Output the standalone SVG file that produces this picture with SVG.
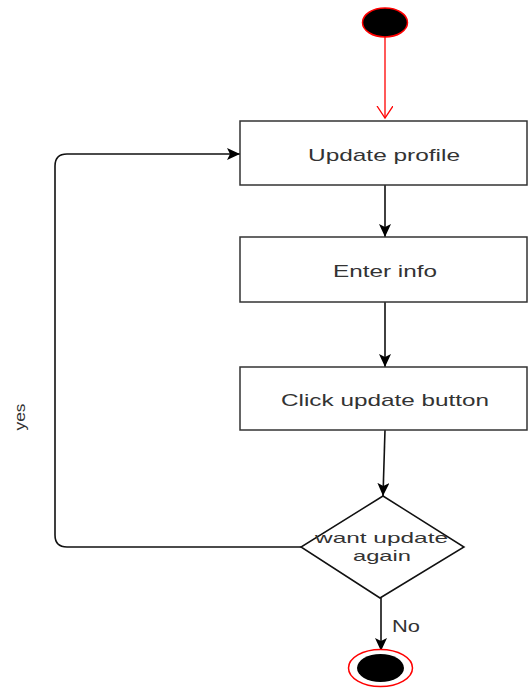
<svg xmlns="http://www.w3.org/2000/svg" width="528" height="689" viewBox="0 0 528 689">
<defs>
<marker id="arr" markerWidth="14" markerHeight="12" refX="13" refY="6" orient="auto" markerUnits="userSpaceOnUse">
<path d="M0,0 L13,6 L0,12 L3,6 Z" fill="#000"/>
</marker>
<marker id="open" markerWidth="14" markerHeight="18" refX="12" refY="8" orient="auto" markerUnits="userSpaceOnUse">
<path d="M0,0 L12,8 L0,16" fill="none" stroke="#ff0000" stroke-width="1.3"/>
</marker>
</defs>
<style>
.box{fill:#fff;stroke:#333;stroke-width:1.5}
.lbl{font-family:"Liberation Sans",Arial,sans-serif;font-size:17px;fill:#333;text-anchor:middle}
.dec{font-size:15px}
.edge{fill:none;stroke:#111;stroke-width:1.6}
</style>
<rect width="528" height="689" fill="#fff"/>
<g id="connectors">
<line x1="385" y1="37" x2="385" y2="118" stroke="#ff0000" stroke-width="1.3" marker-end="url(#open)"/>
<line class="edge" x1="385" y1="185" x2="385" y2="237" marker-end="url(#arr)"/>
<line class="edge" x1="385" y1="302" x2="385" y2="367" marker-end="url(#arr)"/>
<line class="edge" x1="385" y1="430" x2="383" y2="496" marker-end="url(#arr)"/>
<line class="edge" x1="381" y1="598" x2="381" y2="651" marker-end="url(#arr)"/>
<path class="edge" d="M301,547 L67,547 Q55,547 55,535 L55,166 Q55,154 67,154 L240,154" marker-end="url(#arr)"/>
<text class="lbl" x="406" y="632" textLength="28" lengthAdjust="spacingAndGlyphs">No</text>
<text class="lbl" transform="translate(25,417) rotate(-90)" x="0" y="0" textLength="27" lengthAdjust="spacingAndGlyphs" style="font-size:14px">yes</text>
</g>
<g id="start">
<ellipse cx="385" cy="22.5" rx="22.5" ry="14.5" fill="#000" stroke="#ff0000" stroke-width="1.5"/>
</g>
<g id="update-profile">
<rect class="box" x="240" y="121" width="287" height="64"/>
<text class="lbl" x="384" y="160.5" textLength="152" lengthAdjust="spacingAndGlyphs">Update profile</text>
</g>
<g id="enter-info">
<rect class="box" x="240" y="237" width="287" height="65"/>
<text class="lbl" x="385" y="276.5" textLength="104" lengthAdjust="spacingAndGlyphs">Enter info</text>
</g>
<g id="click-update">
<rect class="box" x="240" y="367" width="287" height="63"/>
<text class="lbl" x="385" y="405.5" textLength="208" lengthAdjust="spacingAndGlyphs">Click update button</text>
</g>
<g id="decision">
<polygon points="383,496 464,547 380,598 301,547" fill="#fff" stroke="#111" stroke-width="1.5"/>
<text class="lbl dec" x="381.5" y="543" textLength="133" lengthAdjust="spacingAndGlyphs">want update</text>
<text class="lbl dec" x="382" y="561" textLength="58" lengthAdjust="spacingAndGlyphs">again</text>
</g>
<g id="end">
<ellipse cx="380.5" cy="668" rx="32" ry="18.5" fill="#fff" stroke="#ff0000" stroke-width="1.5"/>
<ellipse cx="380.5" cy="668" rx="23.5" ry="14" fill="#000"/>
</g>
</svg>
